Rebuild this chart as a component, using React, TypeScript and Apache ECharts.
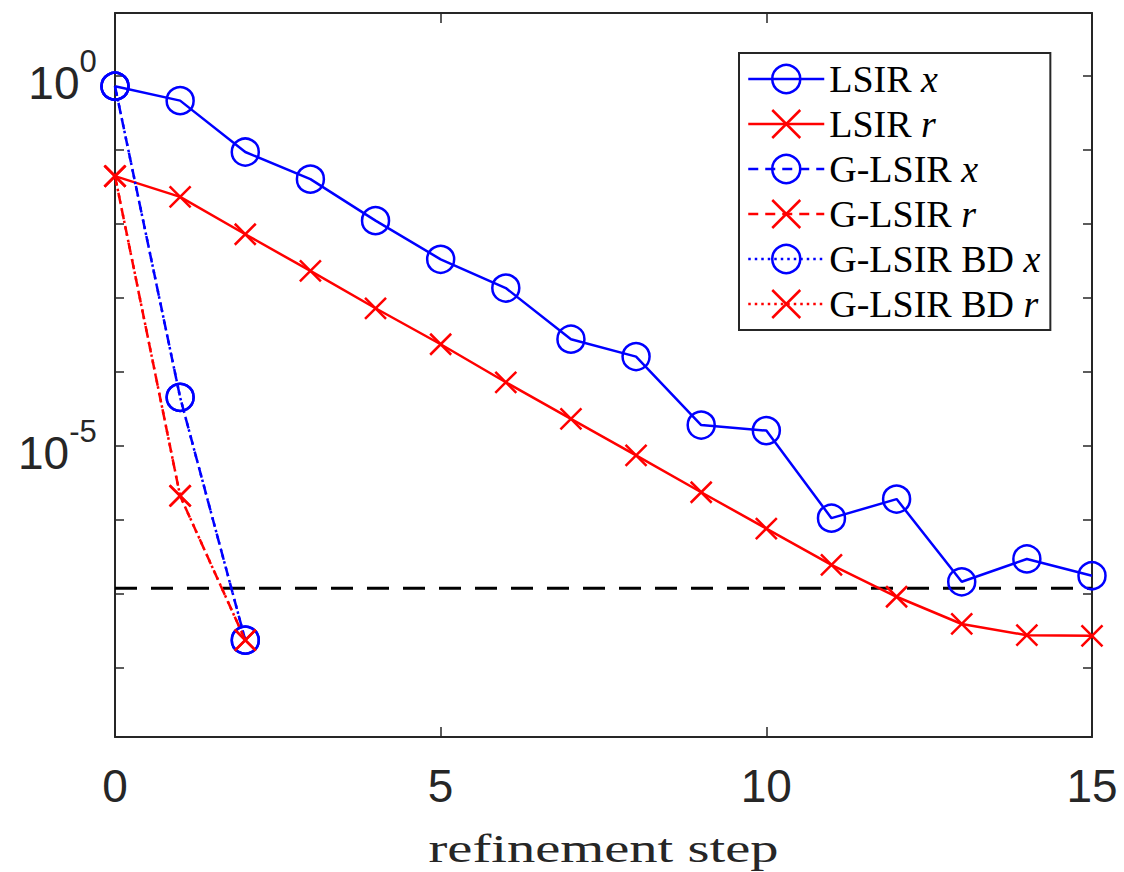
import React, { useEffect, useRef } from 'react';
import * as echarts from 'echarts';

// refinement steps
const steps = [0, 1, 2, 3, 4, 5, 6, 7, 8, 9, 10, 11, 12, 13, 14, 15];
const lsirX = [0.72, 0.46, 9.3e-2, 4.0e-2, 1.1e-2, 3.3e-3, 1.35e-3, 2.75e-4, 1.6e-4, 1.9e-5, 1.6e-5, 1.05e-6, 1.9e-6, 1.45e-7, 2.95e-7, 1.75e-7];
const lsirR = [4.4e-2, 2.3e-2, 7.2e-3, 2.3e-3, 7.2e-4, 2.35e-4, 7.2e-5, 2.3e-5, 7.4e-6, 2.35e-6, 7.6e-7, 2.45e-7, 9.1e-8, 3.9e-8, 2.75e-8, 2.7e-8];
const gSteps = [0, 1, 2];
const gLsirX = [0.72, 4.5e-5, 2.36e-8];
const gLsirR = [4.4e-2, 2.1e-6, 2.36e-8];
const gLsirBdX = [0.72, 4.5e-5, 2.36e-8];
const gLsirBdR = [4.4e-2, 2.1e-6, 2.36e-8];
const tolerance = 1.19e-7;
const legendNames = ['LSIR x', 'LSIR r', 'G-LSIR x', 'G-LSIR r', 'G-LSIR BD x', 'G-LSIR BD r'];
const yLabelExponents = [0, -5];
const xTickInterval = 5;

const BLUE = '#0000ff';
const RED = '#ff0000';
const AXIS = '#262626';
const CROSS = 'path://M0,0L10,10M10,0L0,10';

const Y_MIN = Math.pow(10, -8.936);
const Y_MAX = Math.pow(10, 0.847);

function pairs(xs: number[], ys: number[]) {
  return xs.map((x, i) => [x, ys[i]]);
}

function lineSeries(name: string, data: number[][], color: string, symbol: string, size: number, dash: any) {
  return {
    name,
    type: 'line',
    data,
    clip: false,
    symbol,
    symbolSize: size,
    showSymbol: true,
    silent: true,
    lineStyle: { color, width: 2.5, type: dash },
    itemStyle: { color: 'rgba(0,0,0,0)', borderColor: color, borderWidth: 2.5 },
    emphasis: { disabled: true },
  };
}

export default function App() {
  const ref = useRef<HTMLDivElement>(null);
  useEffect(() => {
    const chart = echarts.init(ref.current as HTMLDivElement, null, { renderer: 'svg' });
    const yLabel = (v: number) => {
      const l = Math.round(Math.log10(v) * 1000) / 1000;
      for (const e of yLabelExponents) {
        if (l === e) return '{b|10}{s|' + e + '}{z| }';
      }
      return '';
    };
    const baseX = {
      type: 'value',
      min: 0,
      max: 15,
      interval: xTickInterval,
      axisLine: { show: true, onZero: false, lineStyle: { color: AXIS, width: 2 } },
      axisTick: { show: true, inside: true, length: 10, lineStyle: { color: AXIS, width: 1.5 } },
      splitLine: { show: false },
    };
    const baseY = {
      type: 'log',
      logBase: 10,
      min: Y_MIN,
      max: Y_MAX,
      splitNumber: 10,
      axisLine: { show: true, onZero: false, lineStyle: { color: AXIS, width: 2 } },
      axisTick: { show: true, inside: true, length: 9, lineStyle: { color: AXIS, width: 1.5 } },
      splitLine: { show: false },
      minorTick: { show: false },
    };
    chart.setOption({
      animation: false,
      grid: { left: 115, right: 32, top: 13, bottom: 135, containLabel: false },
      xAxis: [
        {
          ...baseX,
          position: 'bottom',
          axisLabel: { margin: 26, fontSize: 46, fontFamily: 'Liberation Sans', color: AXIS, lineHeight: 46 },
        },
        { ...baseX, position: 'top', axisLabel: { show: false } },
      ],
      yAxis: [
        {
          ...baseY,
          position: 'left',
          axisLabel: {
            margin: 18,
            formatter: yLabel,
            rich: {
              b: { fontSize: 46, fontFamily: 'Liberation Sans', color: AXIS, lineHeight: 40, verticalAlign: 'bottom' },
              s: { fontSize: 31, fontFamily: 'Liberation Sans', color: AXIS, lineHeight: 46, verticalAlign: 'top' },
              z: { fontSize: 1, lineHeight: 60, verticalAlign: 'middle' },
            },
          },
        },
        { ...baseY, position: 'right', axisLabel: { show: false } },
      ],
      legend: {
        data: legendNames,
        orient: 'vertical',
        left: 739,
        top: 53,
        padding: [7, 10, 7, 8],
        itemWidth: 76,
        itemHeight: 35,
        itemGap: 7,
        borderColor: AXIS,
        borderWidth: 2,
        backgroundColor: '#ffffff',
        selectedMode: false,
        lineStyle: { width: 2.5 },
        itemStyle: { borderWidth: 2.5 },
        formatter: (name: string) => {
          const k = name.lastIndexOf(' ');
          return '{n|' + name.slice(0, k) + ' }{i|' + name.slice(k + 1) + '}';
        },
        textStyle: {
          rich: {
            n: { fontSize: 38, fontFamily: 'Liberation Serif', color: '#000', lineHeight: 35 },
            i: { fontSize: 38, fontFamily: 'Liberation Serif', fontStyle: 'italic', color: '#000', lineHeight: 35 },
          },
        },
      },
      graphic: [
        {
          type: 'text',
          x: 603.5,
          y: 849,
          scaleX: 1.45,
          silent: true,
          style: {
            text: 'refinement step',
            fontSize: 39,
            fontFamily: 'Liberation Serif',
            fill: AXIS,
            align: 'center',
            verticalAlign: 'middle',
          },
        },
      ],
      series: [
        {
          name: 'tolerance',
          type: 'line',
          data: [[0, tolerance], [15, tolerance]],
          symbol: 'none',
          silent: true,
          lineStyle: { color: '#000', width: 3, type: [22, 14] },
          emphasis: { disabled: true },
        },
        lineSeries('LSIR x', pairs(steps, lsirX), BLUE, 'circle', 27, 'solid'),
        lineSeries('LSIR r', pairs(steps, lsirR), RED, CROSS, 21, 'solid'),
        lineSeries('G-LSIR x', pairs(gSteps, gLsirX), BLUE, 'circle', 27, [10, 7]),
        lineSeries('G-LSIR r', pairs(gSteps, gLsirR), RED, CROSS, 21, [10, 7]),
        lineSeries('G-LSIR BD x', pairs(gSteps, gLsirBdX), BLUE, 'circle', 27, [2.5, 4]),
        lineSeries('G-LSIR BD r', pairs(gSteps, gLsirBdR), RED, CROSS, 21, [2.5, 4]),
      ],
    });
    return () => chart.dispose();
  }, []);
  return <div ref={ref} style={{ position: 'absolute', left: 0, top: 0, width: 1124, height: 872 }} />;
}
